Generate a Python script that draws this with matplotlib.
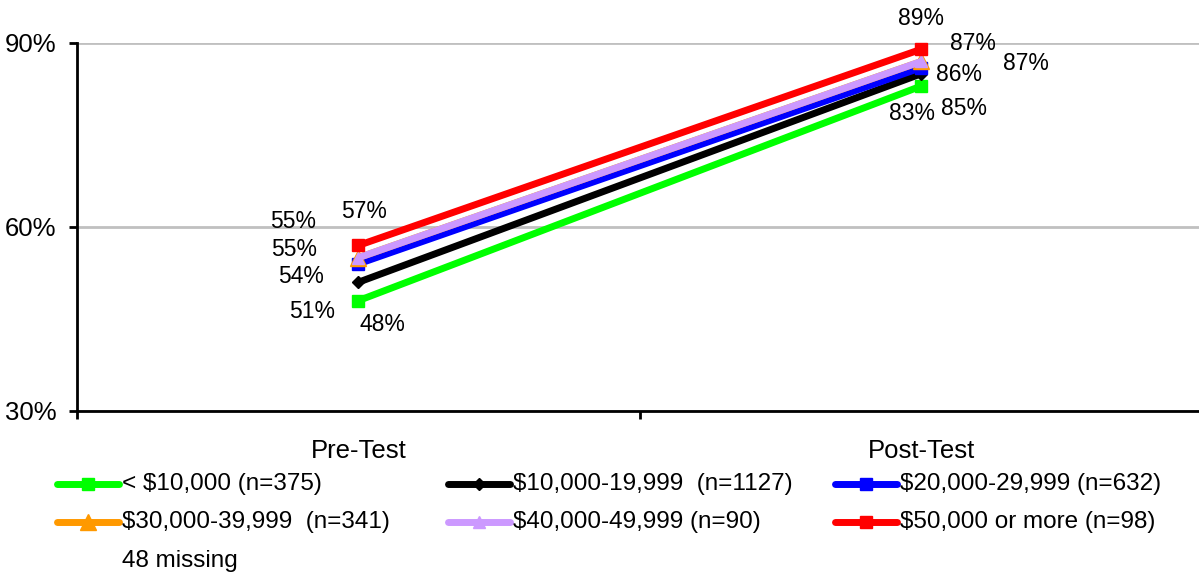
import matplotlib
matplotlib.use("Agg")
import matplotlib.pyplot as plt
from matplotlib.lines import Line2D
from matplotlib.ticker import FuncFormatter

plt.rcParams['font.family'] = ['Liberation Sans', 'DejaVu Sans']

# Test phases and income groups
phases = ["Pre-Test", "Post-Test"]
groups = ["< $10,000 (n=375)", "$10,000-19,999  (n=1127)", "$20,000-29,999 (n=632)",
          "$30,000-39,999  (n=341)", "$40,000-49,999 (n=90)", "$50,000 or more (n=98)"]
pre_scores = [48, 51, 54, 55, 55, 57]
post_scores = [83, 85, 86, 87, 87, 89]
missing_note = "48 missing"
y_ticks = [30, 60, 90]

colors = ["#00ff00", "#000000", "#0000ff", "#ff9900", "#cc99ff", "#ff0000"]
markers = ["s", "D", "s", "^", "^", "s"]
msizes = [9, 6, 9, 12, 9, 9]

# label offsets in pixels (pre, post), y pointing up
pre_off = [(24, -24), (-46, -29), (-57, -13), (-64, 8), (-65, 36), (6, 34)]
post_off = [(-9, -28), (43, -35), (38, -7), (104, -2), (51, 18), (0, 31)]

W, H = 1199, 574
fig = plt.figure(figsize=(W / 100, H / 100), dpi=100)
ax = fig.add_axes([77 / W, 1 - 411 / H, (1203 - 77) / W, (411 - 43) / H])

x = [0, 1]
for i in range(len(groups)):
    vals = [pre_scores[i], post_scores[i]]
    ax.plot(x, vals, color=colors[i], lw=5, marker=markers[i], ms=msizes[i],
            markeredgecolor=colors[i], solid_capstyle="butt", zorder=3 + i, clip_on=False)
    for xi, v, off in zip(x, vals, [pre_off[i], post_off[i]]):
        ax.annotate(f"{v}%", (xi, v), xytext=off, textcoords="offset pixels",
                    ha="center", va="center", fontsize=16.5, color="black",
                    annotation_clip=False, zorder=20)

ax.set_xlim(-0.5, 1.5)
ax.set_ylim(30, 90)
ax.set_yticks(y_ticks)
ax.yaxis.set_major_formatter(FuncFormatter(lambda v, p: f"{v:.0f}%"))
ax.grid(axis="y", color="#c0c0c0", lw=2, zorder=0)
ax.set_axisbelow(True)

ax.set_xticks(x)
ax.set_xticklabels(phases)
ax.set_xticks([-0.5, 0.5, 1.5], minor=True)
ax.tick_params(axis="x", which="major", length=0, pad=20, labelsize=18.5)
ax.tick_params(axis="x", which="minor", length=6, width=2)
ax.tick_params(axis="y", length=6, width=2, pad=9, labelsize=18.5)

for s in ["top", "right"]:
    ax.spines[s].set_visible(False)
for s in ["left", "bottom"]:
    ax.spines[s].set_linewidth(2)

# Legend laid out in three columns
col_x = [57, 448, 835]
row_y = [484, 522, 561]
layout = [(0, 0), (1, 0), (2, 0), (0, 1), (1, 1), (2, 1)]
for i, (c, r) in enumerate(layout):
    x0 = col_x[c]
    yy = 1 - row_y[r] / H
    fig.add_artist(Line2D([x0 / W, (x0 + 62) / W], [yy, yy], color=colors[i], lw=5,
                          solid_capstyle="round", transform=fig.transFigure))
    fig.add_artist(Line2D([(x0 + 31) / W], [yy], color=colors[i], marker=markers[i],
                          ms=msizes[i], markeredgecolor=colors[i], lw=0,
                          transform=fig.transFigure))
    fig.text((x0 + 65) / W, yy, groups[i], ha="left", va="center", fontsize=17.5)
fig.text((col_x[0] + 65) / W, 1 - row_y[2] / H, missing_note, ha="left", va="center", fontsize=17.5)

fig.savefig("out.png", dpi=100)
